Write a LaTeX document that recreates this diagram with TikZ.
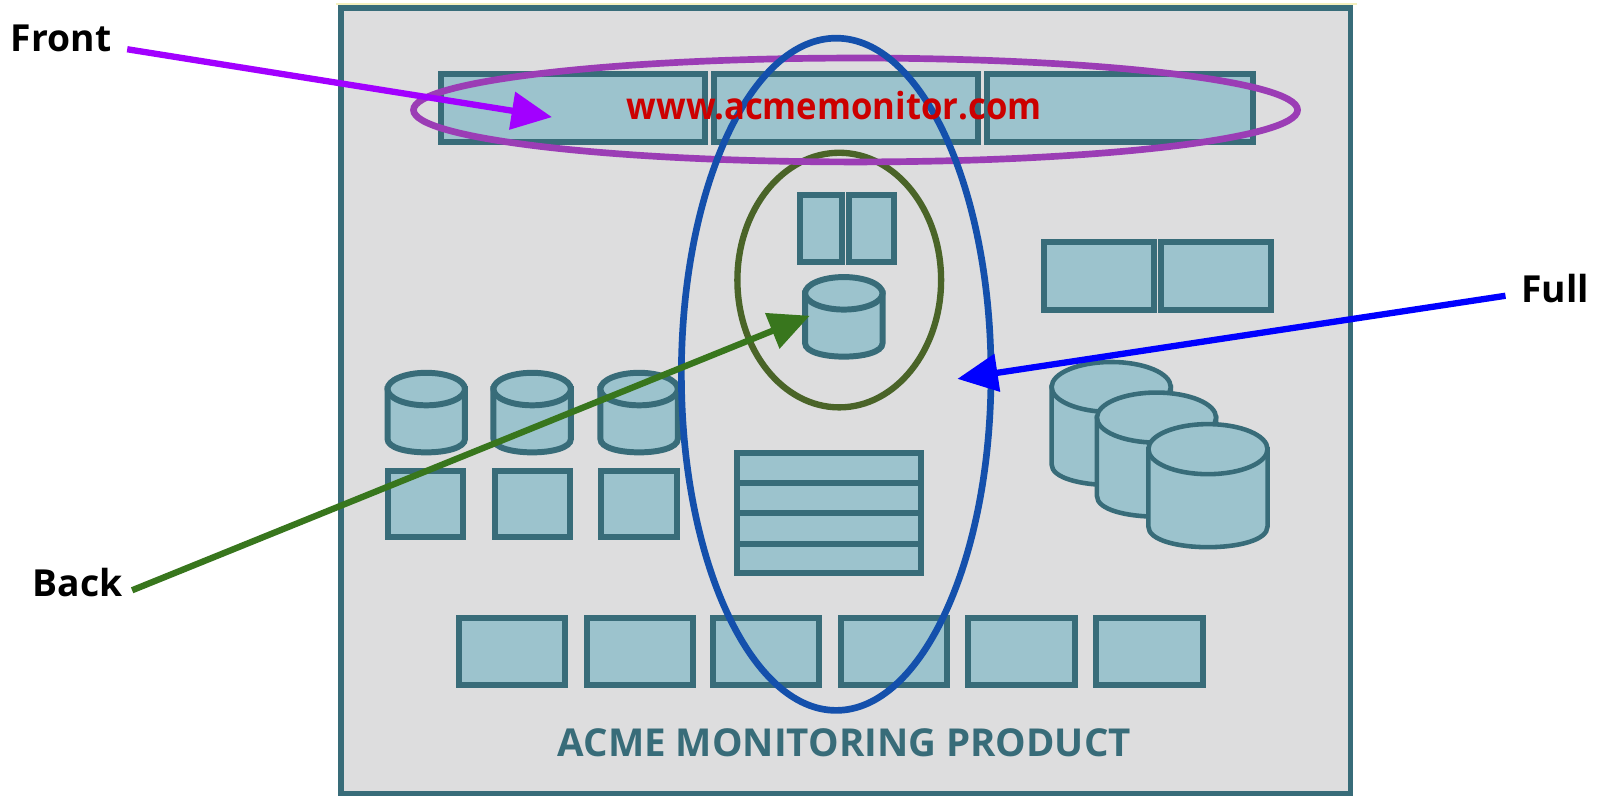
\documentclass[tikz,border=0pt]{standalone}
\usepackage{fontspec}
\setmainfont{Open Sans}
\usetikzlibrary{arrows.meta}
\definecolor{panelgray}{HTML}{DDDDDE}
\definecolor{boxteal}{HTML}{9CC3CD}
\definecolor{edgeteal}{HTML}{386C79}
\definecolor{frontpurple}{HTML}{9B3DB5}
\definecolor{fullblue}{HTML}{1450AC}
\definecolor{backolive}{HTML}{4A6428}
\definecolor{frontarrow}{HTML}{A200FF}
\definecolor{backarrow}{HTML}{38761D}
\definecolor{urlred}{HTML}{CC0000}
\newcommand{\dbcyl}[5]{%
\draw[tealbox,line width=#5] (#1-#3,#2)--(#1-#3,#4) .. controls (#1-#3,#4+1.1*#3*0.42) and (#1+#3,#4+1.1*#3*0.42) .. (#1+#3,#4)--(#1+#3,#2)--cycle;
\draw[tealbox,line width=#5] (#1,#2) ellipse [x radius=#3,y radius=0.42*#3];
}
\tikzset{
	tealbox/.style={draw=edgeteal,fill=boxteal,line width=1.7pt},
	callout/.style={font=\bfseries\fontsize{10.6pt}{12pt}\selectfont,inner sep=15*0.2887pt},
	pointer/.style={line width=1.8pt,-{Triangle[length=11.5pt,width=10.5pt]}}
}
\begin{document}
\begin{tikzpicture}[x=0.10185mm,y=-0.10185mm]
\useasboundingbox (0,0) rectangle (1568,781);
\fill[white] (0,0) rectangle (1568,781);
\draw[color={rgb,255:red,245;green,240;blue,190},line width=0.5pt] (330,4)--(1332,4);
\draw[draw=edgeteal,fill=panelgray,line width=1.6pt] (335,8) rectangle (1326,779);
\draw[tealbox] (433,73) rectangle (692,139);
\draw[tealbox] (701,73) rectangle (960,139);
\draw[tealbox] (969,73) rectangle (1230,139);
\draw[tealbox] (785,191) rectangle (827,257);
\draw[tealbox] (834,191) rectangle (878,257);
\draw[tealbox] (1025,238) rectangle (1133,304);
\draw[tealbox] (1140,238) rectangle (1248,304);
\dbcyl{828.5}{288}{38}{337}{1.7pt}
\dbcyl{418.5}{382}{38}{431}{1.7pt}
\dbcyl{522.5}{382}{38}{431}{1.7pt}
\dbcyl{627.5}{382}{38}{431}{1.7pt}
\draw[tealbox] (381,462) rectangle (455,527);
\draw[tealbox] (486,462) rectangle (560,527);
\draw[tealbox] (590,462) rectangle (665,527);
\draw[tealbox] (724,445) rectangle (904,474);
\draw[tealbox] (724,474) rectangle (904,504);
\draw[tealbox] (724,504) rectangle (904,534);
\draw[tealbox] (724,534) rectangle (904,563);
\dbcyl{1091}{380}{58.5}{456}{1.3pt}
\dbcyl{1135.5}{410}{58.5}{487}{1.3pt}
\dbcyl{1186}{441}{58.5}{517}{1.3pt}
\draw[tealbox] (451,607) rectangle (555,673);
\draw[tealbox] (576,607) rectangle (680,673);
\draw[tealbox] (700,607) rectangle (804,673);
\draw[tealbox] (826,607) rectangle (930,673);
\draw[tealbox] (950,607) rectangle (1055,673);
\draw[tealbox] (1076,607) rectangle (1181,673);
\draw[backolive,line width=1.8pt] (824,275) ellipse [x radius=100,y radius=125];
\draw[frontpurple,line width=1.9pt] (840,108) ellipse [x radius=434,y radius=51];
\draw[fullblue,line width=1.9pt] (821,367.5) ellipse [x radius=152,y radius=330];
\node[urlred,font=\bfseries\fontsize{10.6pt}{12pt}\selectfont] (url) at (819,104) {\scalebox{0.93}[1]{www.acmemonitor.com}};
\node[edgeteal,font=\bfseries\fontsize{10.95pt}{12pt}\selectfont] (product) at (829,729) {ACME MONITORING PRODUCT};
\node[callout] (front) at (60,38) {Front};
\node[callout] (full) at (1527,283) {Full};
\node[callout,inner sep=9*0.2887pt] (back) at (76,572) {Back};
\coordinate (fronttip) at (542,115);
\coordinate (fulltip) at (940,372);
\coordinate (backtip) at (795,310);
\draw[pointer,frontarrow] (front)--(fronttip);
\draw[pointer,blue] (full)--(fulltip);
\draw[pointer,backarrow] (back.-8)--(backtip);
\end{tikzpicture}
\end{document}
